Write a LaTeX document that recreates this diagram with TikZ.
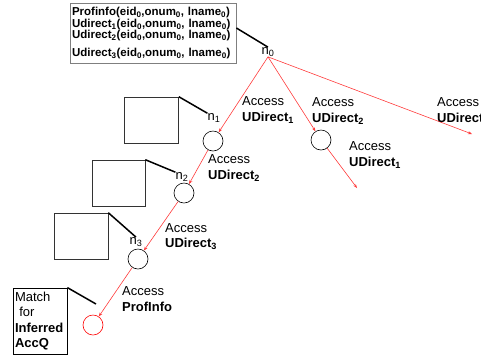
\documentclass[tikz,border=0pt]{standalone}
\usepackage{fontspec}
\setmainfont{Liberation Sans}
\usepackage{tikz}
\usetikzlibrary{arrows.meta,positioning}
\definecolor{accessRed}{HTML}{FF3B3B}
\definecolor{boxGray}{HTML}{7F7F7F}
\tikzset{
  statenode/.style={draw, circle, line width=0.6pt, minimum size=20pt, inner sep=0pt},
  goalnode/.style={statenode, draw=red},
  statelabel/.style={inner sep=0pt, font=\fontsize{13}{15}\selectfont},
  memobox/.style={draw=black!80, line width=0.6pt, minimum width=54pt, minimum height=46pt, inner sep=0pt},
  calloutline/.style={line width=1.5pt},
  accessedge/.style={draw=accessRed, line width=0.6pt, -{Stealth[length=4pt,width=3pt]}},
  accesslabel/.style={anchor=west, inner sep=0pt, align=left, font=\fontsize{13}{15.5}\selectfont},
}

\begin{document}
\begin{tikzpicture}[x=1pt, y=-1pt]
                \useasboundingbox (0,0) rectangle (481,360);
                \node[draw=boxGray, line width=0.8pt, text width=162pt, minimum height=60pt, inner xsep=2pt, inner ysep=0pt, align=left, font=\bfseries\fontsize{11.5}{11.5}\selectfont] (bindings) at (153,33) {Profinfo(eid\textsubscript{0},onum\textsubscript{0}, lname\textsubscript{0})\\ Udirect\textsubscript{1}(eid\textsubscript{0},onum\textsubscript{0}, lname\textsubscript{0})\\ Udirect\textsubscript{2}(eid\textsubscript{0},onum\textsubscript{0}, lname\textsubscript{0})\\[6pt] Udirect\textsubscript{3}(eid\textsubscript{0},onum\textsubscript{0}, lname\textsubscript{0})};
                \node[statelabel] (n0) at (268,52) {n\textsubscript{0}};

                \node[statelabel] (n1lbl) at (214,118) {n\textsubscript{1}};
                \node[statenode] (n1) at (213,141) {};
                \node[statelabel] (n2lbl) at (182,177) {n\textsubscript{2}};
                \node[statenode] (n2) at (184,193) {};
                \node[statelabel] (n3lbl) at (136,242) {n\textsubscript{3}};
                \node[statenode] (n3) at (138,259) {};
                \node[goalnode] (goal) at (93,325) {};
                \node[statenode] (u2) at (321,140) {};

                \node[memobox] (memo1) at (151.5,120) {};
                \node[memobox, minimum width=53pt] (memo2) at (118.5,183) {};
                \node[memobox] (memo3) at (81,236) {};
                \node[draw, line width=0.8pt, text width=50pt, minimum height=66pt, inner xsep=2pt, inner ysep=0pt, align=left, font=\fontsize{13}{15.4}\selectfont] (matchbox) at (40,321) {Match\\ \ for\\ \textbf{Inferred}\\ \textbf{AccQ}};

                \coordinate (goaltag) at (96,304);
                \draw[calloutline] ([yshift=5pt]bindings.east) -- (n0.north);
                \draw[calloutline] (memo1.north east) -- (n1lbl.north west);
                \draw[calloutline] (memo2.north east) -- (n2lbl.north west);
                \draw[calloutline] (memo3.north east) -- (n3lbl.north);
                \draw[calloutline] (matchbox.north east) -- (goaltag);

                \coordinate (farright) at (472,134);
                \coordinate (u1end) at (357,188);
                \draw[accessedge] (n0.south) -- (n1);
                \draw[accessedge] (n0.south) -- (u2);
                \draw[accessedge] (n0.south) -- (farright);
                \draw[accessedge] (n1) -- (n2);
                \draw[accessedge] (n2) -- (n3);
                \draw[accessedge] (n3) -- (goal);
                \draw[accessedge] (u2) -- (u1end);

                \node[accesslabel] (acc1) at (242,110) {Access\\\textbf{UDirect\textsubscript{1}}};
                \node[accesslabel] (acc2) at (312,111) {Access\\\textbf{UDirect\textsubscript{2}}};
                \node[accesslabel] (acc3) at (437,110) {Access\\\textbf{UDirect}};
                \node[accesslabel] (acc4) at (349,155) {Access\\\textbf{UDirect\textsubscript{1}}};
                \node[accesslabel] (acc5) at (208,168) {Access\\\textbf{UDirect\textsubscript{2}}};
                \node[accesslabel] (acc6) at (165,236.5) {Access\\\textbf{UDirect\textsubscript{3}}};
                \node[accesslabel] (acc7) at (122,299) {Access\\\textbf{ProfInfo}};
            \end{tikzpicture}
\end{document}
